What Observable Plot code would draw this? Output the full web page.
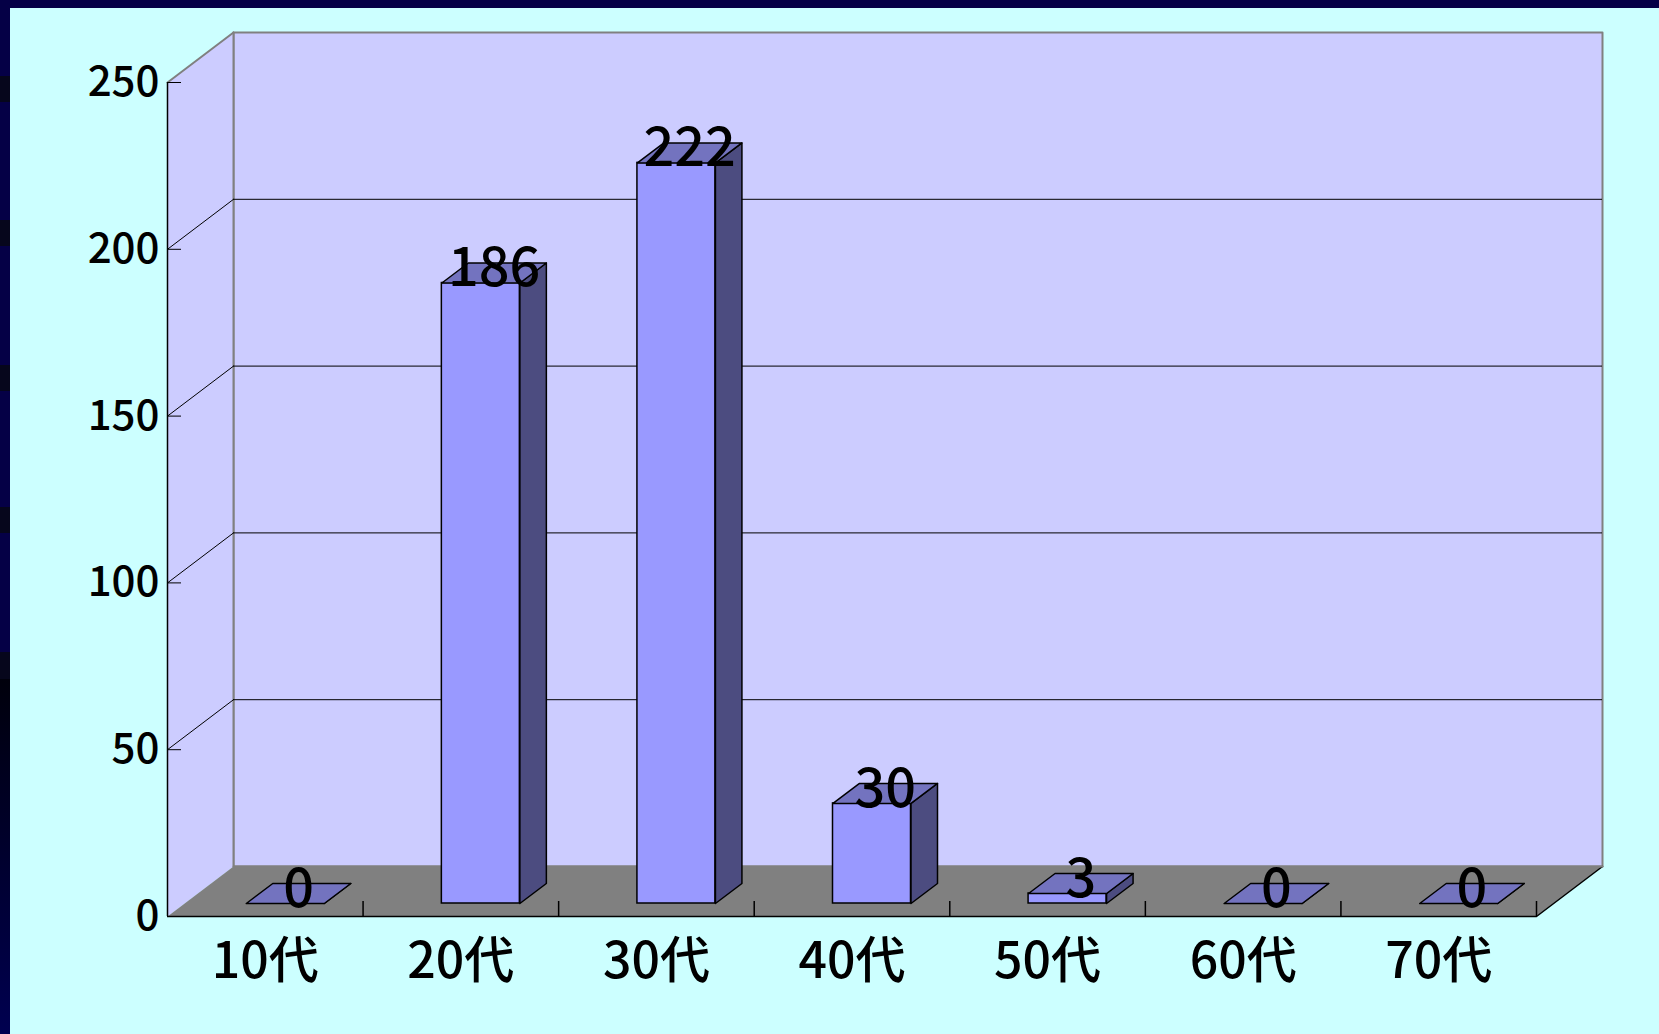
<!DOCTYPE html>
<html>
<head>
<meta charset="utf-8">
<script src="https://cdn.jsdelivr.net/npm/d3@7"></script>
<script src="https://cdn.jsdelivr.net/npm/@observablehq/plot@0.6"></script>
<style>
  html, body { margin: 0; padding: 0; }
  body { width: 1659px; height: 1034px; position: relative; overflow: hidden; background: #050046; }
  #panel { position: absolute; left: 10px; top: 8px; right: 0; bottom: 0; background: #CCFFFF; }
  .patch { position: absolute; left: 0; width: 10px; background: #06061C; }
  #grad { position: absolute; left: 0; width: 10px; top: 679px; height: 355px; background: linear-gradient(#00000C, #000050); }
  #chart { position: absolute; left: 0; top: 0; }
  #chart text { font-weight: 500; }
</style>
</head>
<body>
<div id="panel"></div>
<div class="patch" style="top:76px;height:26px"></div>
<div class="patch" style="top:220px;height:26px"></div>
<div class="patch" style="top:365px;height:26px"></div>
<div class="patch" style="top:507px;height:26px"></div>
<div class="patch" style="top:652px;height:27px"></div>
<div id="grad"></div>
<div id="chart"></div>
<script>
// ---- data ----
const categories = ["10代", "20代", "30代", "40代", "50代", "60代", "70代"];
const counts = [0, 186, 222, 30, 3, 0, 0];
const yTicks = [0, 50, 100, 150, 200, 250];

// ---- layout (pixels) ----
const W = 1659, H = 1034;
const mL = 167, mR = 123, mT = 82, mB = 118;
const pxX = (W - mL - mR) / categories.length;   // px per x unit
const pxY = (H - mT - mB) / 250;                 // px per y unit
const wallDX = 66 / pxX, wallDY = 50 / pxY;      // 3D wall depth in data units
const barDX = 26.5 / pxX, barDY = 20 / pxY;      // bar depth in data units
const barHalf = 39 / pxX;                        // half bar width
const barOffX = 20, barOffY = -13;               // bar plane offset (px)
const n = categories.length;
const yMax = yTicks[yTicks.length - 1];

const bars = categories.map((c, i) => ({c, i, v: counts[i], xl: i + 0.5 - barHalf, xr: i + 0.5 + barHalf}));

// polygons for walls
const backWall = [[wallDX, wallDY], [n + wallDX, wallDY], [n + wallDX, yMax + wallDY], [wallDX, yMax + wallDY], [wallDX, wallDY]]
  .map(([x, y]) => ({x, y}));
const sideWall = [[0, 0], [0, yMax], [wallDX, yMax + wallDY], [wallDX, wallDY], [0, 0]].map(([x, y]) => ({x, y}));
const floor = [[0, 0], [n, 0], [n + wallDX, wallDY], [wallDX, wallDY], [0, 0]].map(([x, y]) => ({x, y}));
const gridVals = yTicks.filter(v => v > 0 && v < yMax);
const sideDiag = gridVals.flatMap(v => [{k: v, x: 0, y: v}, {k: v, x: wallDX, y: v + wallDY}]);

const sidePoly = bars.flatMap(b => [
  {k: b.i, x: b.xr, y: 0}, {k: b.i, x: b.xr + barDX, y: barDY},
  {k: b.i, x: b.xr + barDX, y: b.v + barDY}, {k: b.i, x: b.xr, y: b.v}, {k: b.i, x: b.xr, y: 0}
]);
const topPoly = bars.flatMap(b => [
  {k: b.i, x: b.xl, y: b.v}, {k: b.i, x: b.xr, y: b.v},
  {k: b.i, x: b.xr + barDX, y: b.v + barDY}, {k: b.i, x: b.xl + barDX, y: b.v + barDY}, {k: b.i, x: b.xl, y: b.v}
]);

const plot = Plot.plot({
  width: W, height: H,
  marginLeft: mL, marginRight: mR, marginTop: mT, marginBottom: mB,
  x: {type: "linear", domain: [0, n]},
  y: {type: "linear", domain: [0, yMax]},
  style: {background: "transparent", fontFamily: "'Noto Sans CJK JP', sans-serif", color: "black", overflow: "visible"},
  marks: [
    // back wall
    Plot.line(backWall, {x: "x", y: "y", fill: "#CCCCFF", stroke: "#808080", strokeWidth: 2}),
    // side wall
    Plot.line(sideWall, {x: "x", y: "y", fill: "#CCCCFF", stroke: "none"}),
    Plot.line([{x: 0, y: yMax}, {x: wallDX, y: yMax + wallDY}], {x: "x", y: "y", stroke: "#808080", strokeWidth: 2}),
    // floor
    Plot.line(floor, {x: "x", y: "y", fill: "#808080", stroke: "none"}),
    Plot.line([{x: n, y: 0}, {x: n + wallDX, y: wallDY}], {x: "x", y: "y", stroke: "black", strokeWidth: 1.5}),
    Plot.line([{x: wallDX, y: wallDY}, {x: n + wallDX, y: wallDY}], {x: "x", y: "y", stroke: "#808080", strokeWidth: 2}),
    Plot.line([{x: wallDX, y: wallDY}, {x: wallDX, y: yMax + wallDY}], {x: "x", y: "y", stroke: "#808080", strokeWidth: 2}),
    // gridlines
    Plot.ruleY(gridVals, {y: d => d + wallDY, x1: wallDX, x2: n + wallDX, stroke: "black", strokeWidth: 1}),
    Plot.line(sideDiag, {x: "x", y: "y", z: "k", stroke: "black", strokeWidth: 1}),
    // axis lines and ticks
    Plot.ruleX([0], {y1: 0, y2: yMax, stroke: "black", strokeWidth: 1.5}),
    Plot.ruleY([0], {x1: 0, x2: n, stroke: "black", strokeWidth: 1.5}),
    Plot.ruleY(yTicks, {x1: 0, x2: 14 / pxX, stroke: "black", strokeWidth: 1}),
    Plot.ruleX(d3.range(1, n + 1), {y1: 0, y2: 15 / pxY, stroke: "black", strokeWidth: 1.5}),
    // bars
    Plot.rect(bars, {x1: "xl", x2: "xr", y1: 0, y2: "v", fill: "#9999FF", stroke: "black", strokeWidth: 1.5, dx: barOffX, dy: barOffY}),
    Plot.line(sidePoly, {x: "x", y: "y", z: "k", fill: "#4C4C80", stroke: "black", strokeWidth: 1.5, strokeLinejoin: "round", dx: barOffX, dy: barOffY}),
    Plot.line(topPoly, {x: "x", y: "y", z: "k", fill: "#7373BF", stroke: "black", strokeWidth: 1.5, strokeLinejoin: "round", dx: barOffX, dy: barOffY}),
    // value labels
    Plot.text(bars, {x: d => d.i + 0.5 + barDX / 2, y: d => d.v + barDY / 2, text: d => String(d.v), fontSize: 54, fill: "black", dx: barOffX, dy: barOffY - 4}),
    // axes
    Plot.axisY(yTicks, {anchor: "left", tickSize: 0, tickPadding: 8, fontSize: 42, label: null, tickFormat: d => String(d)}),
    Plot.axisX(categories.map((c, i) => i + 0.5), {anchor: "bottom", tickSize: 0, tickPadding: 26, fontSize: 50, label: null, tickFormat: d => categories[Math.floor(d)]})
  ]
});
document.getElementById("chart").appendChild(plot);
</script>
</body>
</html>
